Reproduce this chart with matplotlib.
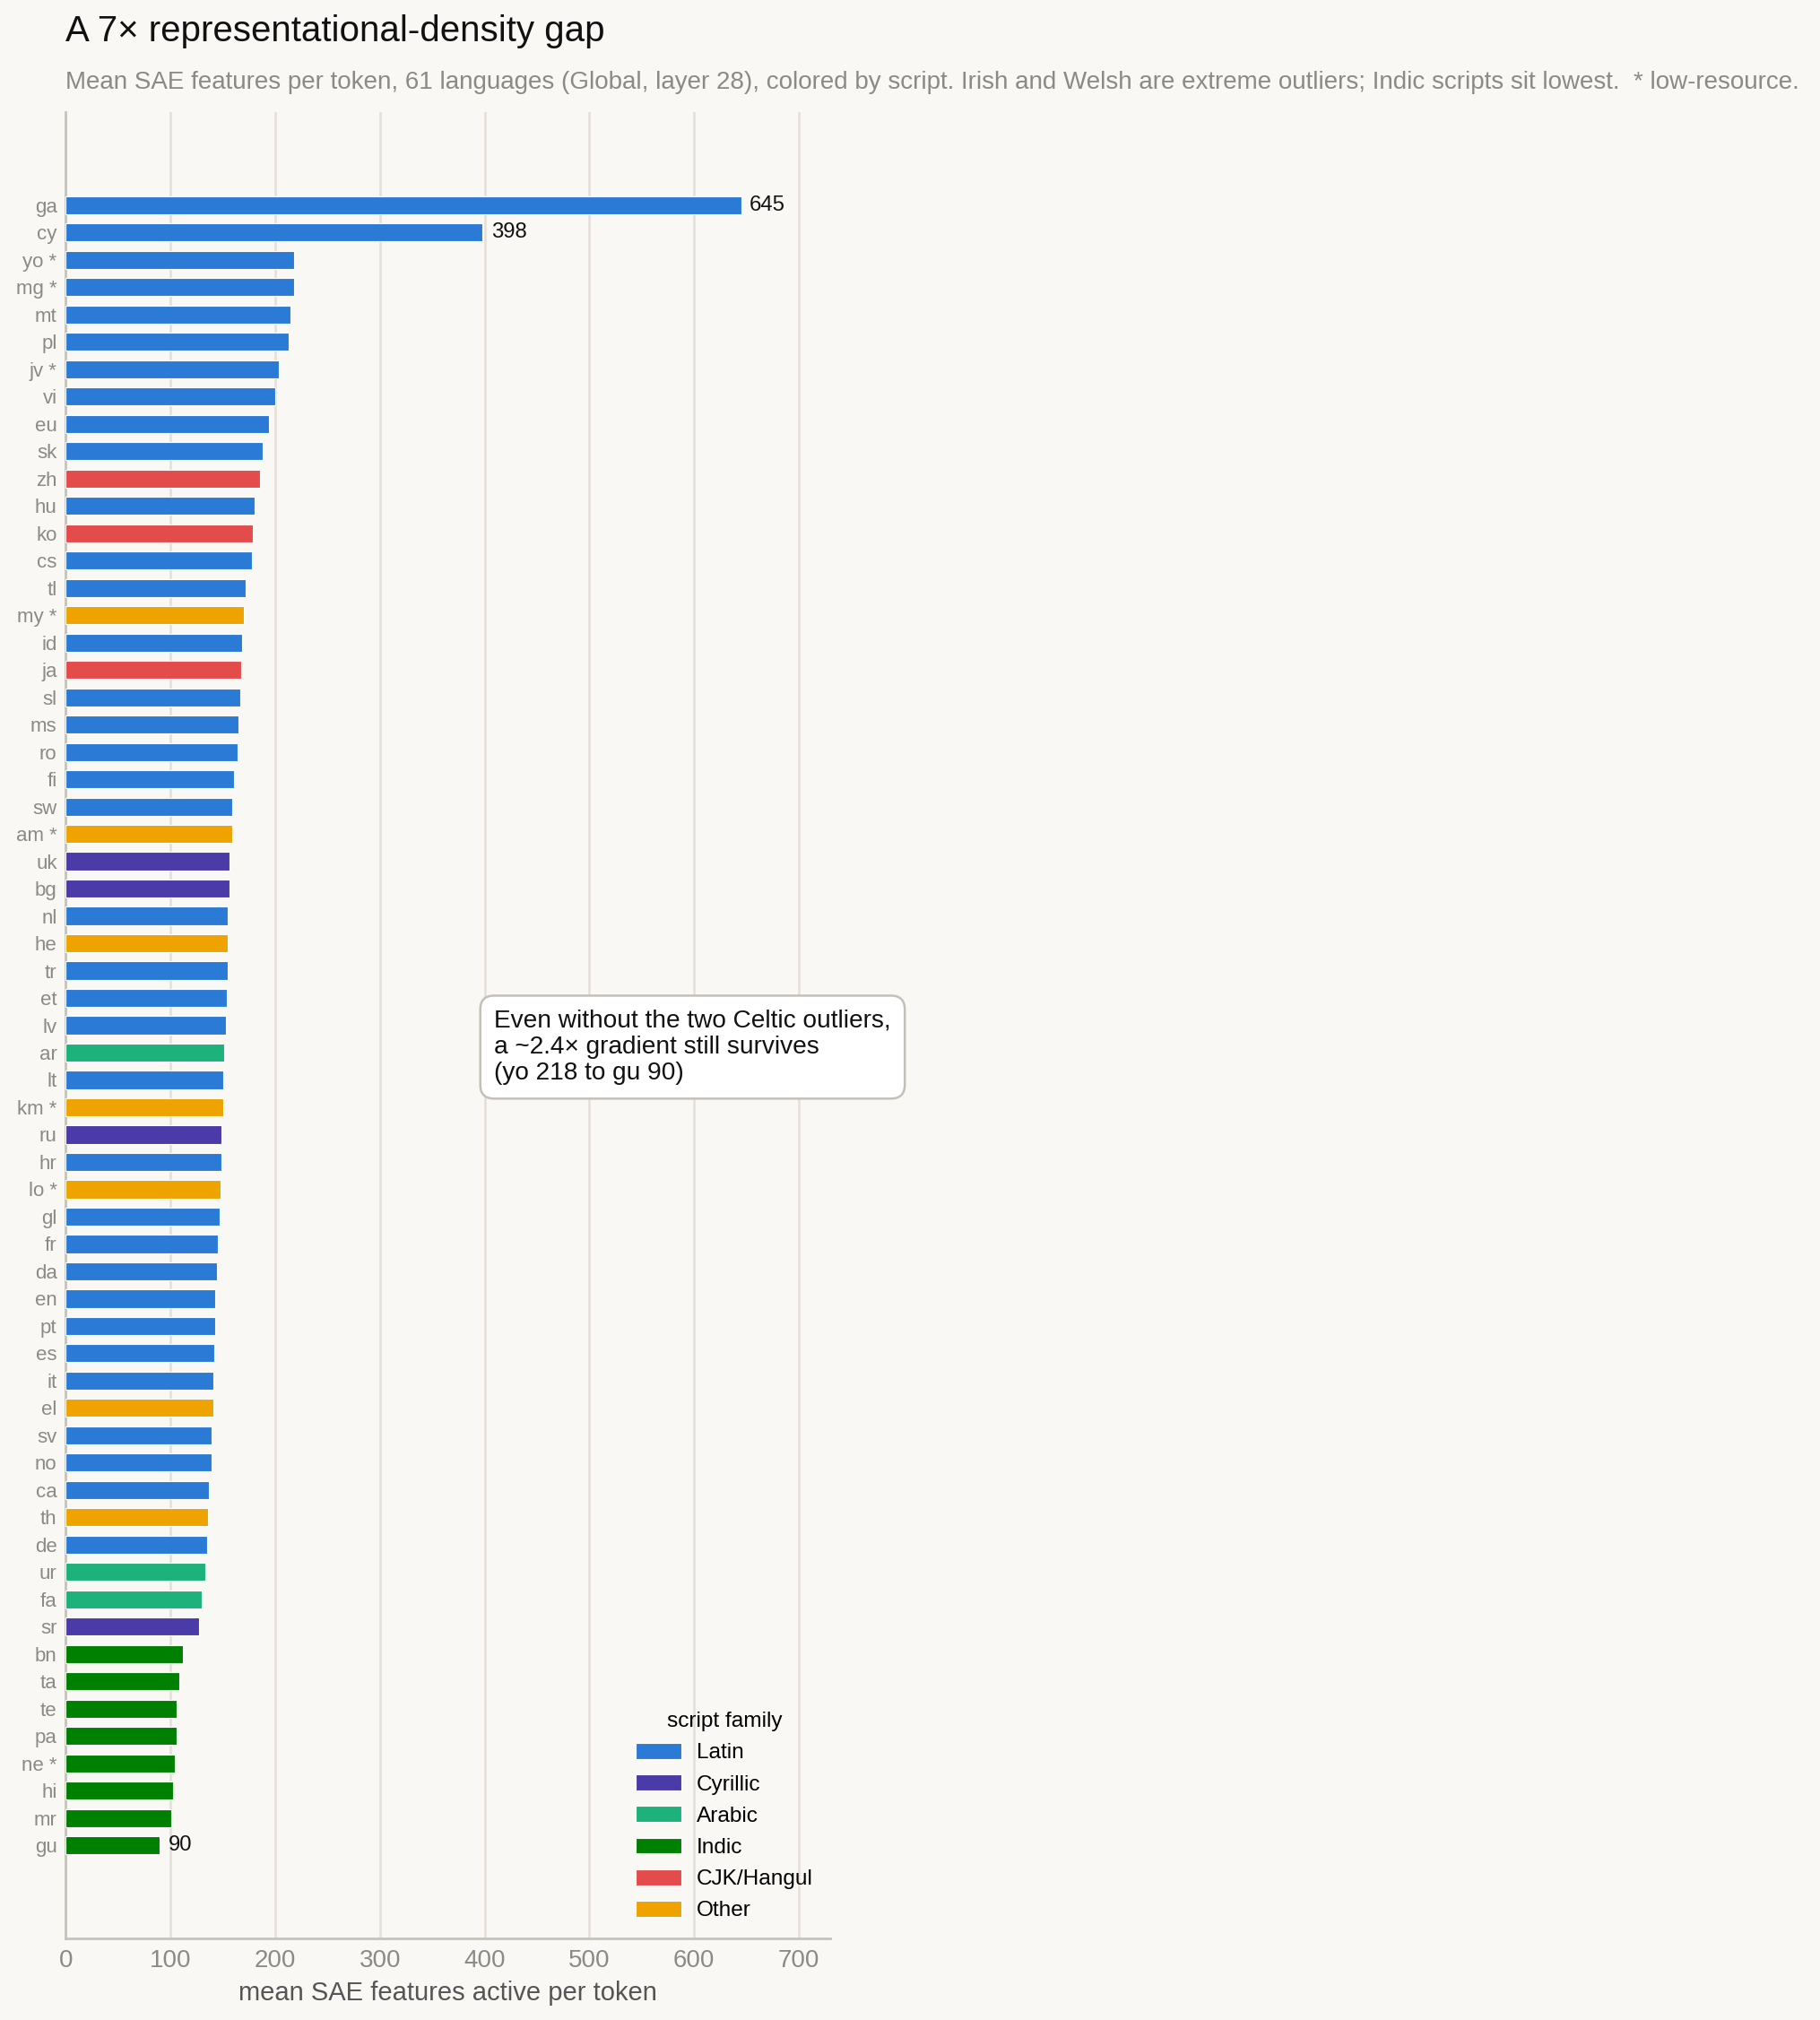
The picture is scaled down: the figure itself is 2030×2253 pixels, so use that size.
import numpy as np
import matplotlib
matplotlib.use("Agg")
import matplotlib.pyplot as plt
from matplotlib.patches import Patch

# mean SAE features active per token, sorted high -> low
langs = ['ga', 'cy', 'yo *', 'mg *', 'mt', 'pl', 'jv *', 'vi', 'eu', 'sk',
         'zh', 'hu', 'ko', 'cs', 'tl', 'my *', 'id', 'ja', 'sl', 'ms',
         'ro', 'fi', 'sw', 'am *', 'uk', 'bg', 'nl', 'he', 'tr', 'et',
         'lv', 'ar', 'lt', 'km *', 'ru', 'hr', 'lo *', 'gl', 'fr', 'da',
         'en', 'pt', 'es', 'it', 'el', 'sv', 'no', 'ca', 'th', 'de',
         'ur', 'fa', 'sr', 'bn', 'ta', 'te', 'pa', 'ne *', 'hi', 'mr', 'gu']
values = [645, 398, 218, 218, 214.5, 212.8, 203.4, 200, 194, 188,
          185.3, 180.3, 178.6, 177.7, 172, 170.3, 168.6, 167.7, 166.9, 165.2,
          164.3, 160.9, 159.2, 159.2, 156.6, 156.6, 154.9, 154.9, 154.9, 154,
          153.2, 151.5, 150.6, 150.6, 148.9, 148.9, 148, 147.2, 145.5, 144.6,
          142.9, 142.9, 142, 141.2, 141.2, 139.5, 139.5, 136.9, 136, 135.1,
          133.4, 129.8, 127.2, 111.8, 108.4, 105.8, 105.8, 104.1, 102.4, 100.7, 90]
scripts = ['Latin', 'Latin', 'Latin', 'Latin', 'Latin', 'Latin', 'Latin', 'Latin', 'Latin', 'Latin',
           'CJK/Hangul', 'Latin', 'CJK/Hangul', 'Latin', 'Latin', 'Other', 'Latin', 'CJK/Hangul', 'Latin', 'Latin',
           'Latin', 'Latin', 'Latin', 'Other', 'Cyrillic', 'Cyrillic', 'Latin', 'Other', 'Latin', 'Latin',
           'Latin', 'Arabic', 'Latin', 'Other', 'Cyrillic', 'Latin', 'Other', 'Latin', 'Latin', 'Latin',
           'Latin', 'Latin', 'Latin', 'Latin', 'Other', 'Latin', 'Latin', 'Latin', 'Other', 'Latin',
           'Arabic', 'Arabic', 'Cyrillic', 'Indic', 'Indic', 'Indic', 'Indic', 'Indic', 'Indic', 'Indic', 'Indic']
labelled = ['ga', 'cy', 'gu']

script_order = ['Latin', 'Cyrillic', 'Arabic', 'Indic', 'CJK/Hangul', 'Other']
script_colors = {'Latin': '#2b7bd6', 'Cyrillic': '#4a3ba8', 'Arabic': '#1db17b',
                 'Indic': '#008000', 'CJK/Hangul': '#e44c4c', 'Other': '#eea300'}

bg = '#f9f8f4'
plt.rcParams['font.family'] = ['Liberation Sans', 'DejaVu Sans']

fig = plt.figure(figsize=(10.155, 11.265), dpi=200, facecolor=bg)
ax = fig.add_axes([0.0361, 0.0404, 0.4199, 0.9041], facecolor=bg)

y = np.arange(len(langs))
cols = [script_colors[s] for s in scripts]
ax.barh(y, values, height=0.66, color=cols, edgecolor='white', linewidth=0.4, zorder=3)

for i, (l, v) in enumerate(zip(langs, values)):
    if l in labelled:
        ax.text(v + 8, i, f'{v:.0f}', va='center', ha='left', fontsize=8.6, color='#111111', zorder=4)

ax.set_xlim(0, 730)
ax.set_ylim(len(langs) - 1 + 3.4, -3.4)
ax.set_yticks(y)
ax.set_yticklabels(langs, fontsize=8.0, color='#8a8a86')
ax.set_xticks(range(0, 701, 100))
ax.tick_params(axis='x', labelsize=10, colors='#8a8a86', length=0, pad=4.5)
ax.tick_params(axis='y', length=0, pad=3.5)
ax.grid(axis='x', color='#e4e0d8', linewidth=0.9, zorder=0)
ax.set_axisbelow(True)
for s in ['top', 'right']:
    ax.spines[s].set_visible(False)
for s in ['left', 'bottom']:
    ax.spines[s].set_color('#c6c3ba')
    ax.spines[s].set_linewidth(1.0)
ax.set_xlabel('mean SAE features active per token', fontsize=10.5, color='#555555', labelpad=3)

ax.text(409, 30.8, 'Even without the two Celtic outliers,\na ~2.4\u00d7 gradient still survives\n(yo 218 to gu 90)',
        fontsize=10.1, color='#111111', va='center', ha='left', zorder=5, linespacing=1.15,
        bbox=dict(boxstyle='round,pad=0.55', facecolor='white', edgecolor='#c2c1b8', linewidth=0.9))

handles = [Patch(facecolor=script_colors[s], edgecolor='white', linewidth=0.4, label=s) for s in script_order]
leg = ax.legend(handles=handles, title='script family', loc='lower right', frameon=False,
                fontsize=8.8, title_fontsize=8.8, handlelength=2.05, handleheight=0.75,
                handletextpad=0.7, labelspacing=0.52, borderaxespad=0.4)
leg._legend_box.align = 'center'

fig.text(0.0361, 0.9845, 'A 7\u00d7 representational-density gap', fontsize=14.5, color='#111111', va='center', ha='left')
fig.text(0.0361, 0.9592, 'Mean SAE features per token, 61 languages (Global, layer 28), colored by script. '
         'Irish and Welsh are extreme outliers; Indic scripts sit lowest.  * low-resource.',
         fontsize=10.0, color='#8a8a86', va='center', ha='left')

fig.savefig('out.png', dpi=200, facecolor=bg)
